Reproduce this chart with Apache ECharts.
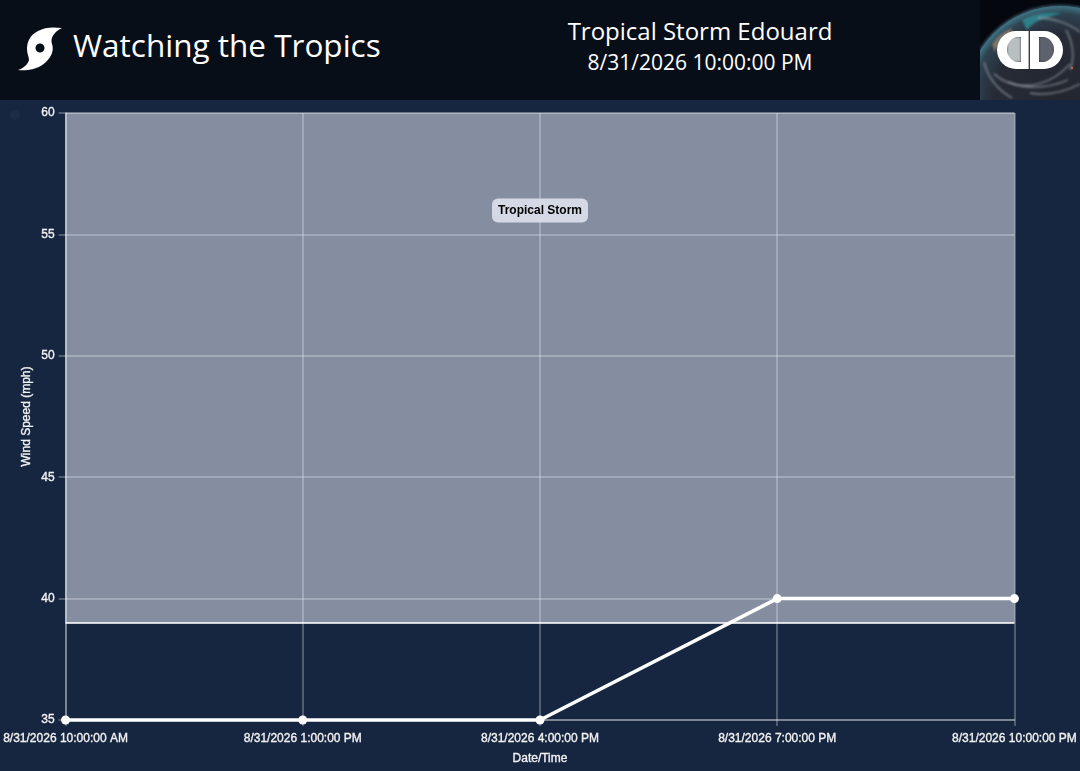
<!DOCTYPE html>
<html>
<head>
<meta charset="utf-8">
<title>Watching the Tropics</title>
<script src="https://cdn.jsdelivr.net/npm/echarts@6/dist/echarts.min.js"></script>
<style>
    html, body { margin: 0; padding: 0; width: 1080px; height: 771px; overflow: hidden; background: #172640; }
    #header { position: absolute; left: 0; top: 0; width: 1080px; height: 100px; background: #080e18; color: #fff; font-family: "Open Sans", sans-serif; }
    #brand { position: absolute; left: 73px; top: 23px; font-size: 31.5px; line-height: 44px; white-space: nowrap; }
    #storm { position: absolute; left: 320px; width: 760px; top: 16px; text-align: center; font-size: 24px; line-height: 30px; }
    #when { position: absolute; left: 320px; width: 760px; top: 47px; text-align: center; font-size: 21px; line-height: 30px; }
    #icon { position: absolute; left: 15px; top: 24px; }
    #earth { position: absolute; left: 980px; top: 0; }
    #chart-box { position: absolute; left: 0; top: 0; width: 1080px; height: 771px; }
</style>
</head>
<body>
<div id="chart-box"></div>
<div id="header">
    <svg id="icon" width="50" height="50" viewBox="0 0 50 50">
        <path fill="#fff" fill-rule="evenodd" d="M47 4 C38 3 30 3 23 7 C15 11 12 18 12 25 C12 30 14 33 14 36 C13 40 9 44 3 46 C13 47 24 45 31 38 C37 32 39 26 37 20 C35 14 39 8 47 4 Z M25 19.5 A4.5 4.5 0 1 0 25.01 28.5 A4.5 4.5 0 1 0 25 19.5 Z"/>
    </svg>
    <div id="brand">Watching the Tropics</div>
    <div id="storm">Tropical Storm Edouard</div>
    <div id="when">8/31/2026 10:00:00 PM</div>
    <svg id="earth" width="100" height="100" viewBox="0 0 100 100">
        <defs>
            <radialGradient id="planet" gradientUnits="userSpaceOnUse" cx="80" cy="100" r="94">
                <stop offset="0" stop-color="#23262f"/>
                <stop offset="0.7" stop-color="#262b36"/>
                <stop offset="0.92" stop-color="#2f4250"/>
                <stop offset="1" stop-color="#3f7486"/>
            </radialGradient>
            <filter id="soft"><feGaussianBlur stdDeviation="1"/></filter>
        </defs>
        <rect width="100" height="100" fill="#05070f"/>
        <circle cx="80" cy="100" r="95.5" fill="#7cc4d6" opacity="0.35" filter="url(#soft)"/>
        <circle cx="80" cy="100" r="94" fill="url(#planet)"/>
        <g filter="url(#soft)">
            <path d="M42 20 C54 13 66 12 82 13 L66 18 C58 20 52 24 47 30 Z" fill="#2f7f88"/>
            <path d="M12 44 C17 37 24 31 32 28 L30 34 C24 38 18 44 15 52 Z" fill="#7d7766"/>
            <g fill="none" stroke="#aeb3bd" stroke-opacity="0.5" stroke-width="1.8">
                <path d="M4 62 C8 78 18 90 32 98"/>
                <path d="M14 74 C30 88 60 92 88 80"/>
                <path d="M28 82 C48 90 72 84 90 64"/>
                <path d="M58 18 C74 18 90 24 100 32"/>
                <path d="M86 30 C93 42 95 58 90 70"/>
                <path d="M50 93 C66 96 84 92 100 84"/>
            </g>
            <rect x="27" y="37" width="14" height="25" fill="#b9bfc0"/>
            <rect x="59" y="37" width="15" height="25" fill="#5d626c"/>
        </g>
        <circle cx="92" cy="68" r="1.2" fill="#c9673a"/>
        <path fill="#fff" fill-rule="evenodd" d="M36 31 H64 A19 19 0 0 1 64 69 H36 A19 19 0 0 1 36 31 Z M38 37 A11 12.5 0 0 0 38 62 H41 V37 Z M59 37 V62 H63 A11 12.5 0 0 0 63 37 Z"/>
        <rect x="48.6" y="31" width="1.4" height="38" fill="#3a3d4c"/>
    </svg>
</div>
<script>
    const categories = [
        '8/31/2026 10:00:00 AM',
        '8/31/2026 1:00:00 PM',
        '8/31/2026 4:00:00 PM',
        '8/31/2026 7:00:00 PM',
        '8/31/2026 10:00:00 PM'
    ];
    const windSpeed = [35, 35, 35, 40, 40];
    const bandName = 'Tropical Storm';
    const bandFrom = 39;
    const bandTo = 60;

    const textFont = '"Liberation Sans", Arial, sans-serif';
    const gridLine = 'rgba(255,255,255,0.25)';
    // slight outline, the reference's labels render heavier than plain 12px
    const axisText = {color: '#f2f2f2', fontSize: 12, fontFamily: textFont, textBorderColor: '#f2f2f2', textBorderWidth: 0.35};

    let chart = echarts.init(document.getElementById('chart-box'), null, {renderer: 'canvas'});
    let option = {
        animation: false,
        backgroundColor: '#172640',
        textStyle: {fontFamily: textFont},
        grid: {left: 65, right: 65, top: 113, bottom: 51},
        graphic: [{
            type: 'circle',
            shape: {cx: 15, cy: 115, r: 5},
            style: {fill: '#1c2c44'},
            silent: true
        }],
        xAxis: {
            type: 'category',
            data: categories,
            boundaryGap: false,
            name: 'Date/Time',
            nameLocation: 'middle',
            nameGap: 33,
            nameMoveOverlap: false,
            nameTextStyle: axisText,
            axisLine: {lineStyle: {color: gridLine, width: 2}},
            axisTick: {show: true, length: 6, lineStyle: {color: gridLine, width: 2}},
            axisLabel: {...axisText, margin: 13, interval: 0, hideOverlap: false, showMinLabel: true, showMaxLabel: true},
            splitLine: {show: true, lineStyle: {color: gridLine, width: 2}}
        },
        yAxis: {
            type: 'value',
            min: 35,
            max: 60,
            interval: 5,
            name: 'Wind Speed (mph)',
            nameLocation: 'middle',
            nameGap: 33,
            nameMoveOverlap: false,
            nameTextStyle: axisText,
            axisLine: {show: true, lineStyle: {color: gridLine, width: 2}},
            axisTick: {show: true, length: 7, lineStyle: {color: gridLine, width: 2}},
            axisLabel: {...axisText, margin: 11},
            splitLine: {show: true, lineStyle: {color: gridLine, width: 2}}
        },
        series: [{
            type: 'line',
            data: windSpeed,
            symbol: 'circle',
            symbolSize: 9,
            clip: false,
            z: 5,
            lineStyle: {color: '#fff', width: 3.5},
            itemStyle: {color: '#fff'},
            markArea: {
                silent: true,
                z: 1,
                itemStyle: {color: 'rgba(244,246,255,0.5)', borderColor: 'rgba(255,255,255,0.3)', borderWidth: 1},
                label: {
                    show: true,
                    position: 'insideTop',
                    distance: 86,
                    color: '#000',
                    fontSize: 12,
                    fontWeight: 'bold',
                    fontFamily: textFont,
                    lineHeight: 12,
                    backgroundColor: '#d5d9e6',
                    borderRadius: 6,
                    padding: [6, 6, 6, 6]
                },
                data: [[
                    {name: bandName, yAxis: bandFrom},
                    {yAxis: bandTo}
                ]]
            },
            markLine: {
                silent: true,
                symbol: 'none',
                z: 2,
                label: {show: false},
                lineStyle: {color: '#fff', type: 'solid', width: 2, opacity: 0.75},
                data: [{yAxis: bandFrom}]
            }
        }]
    };
    chart.setOption(option);
</script>
</body>
</html>
